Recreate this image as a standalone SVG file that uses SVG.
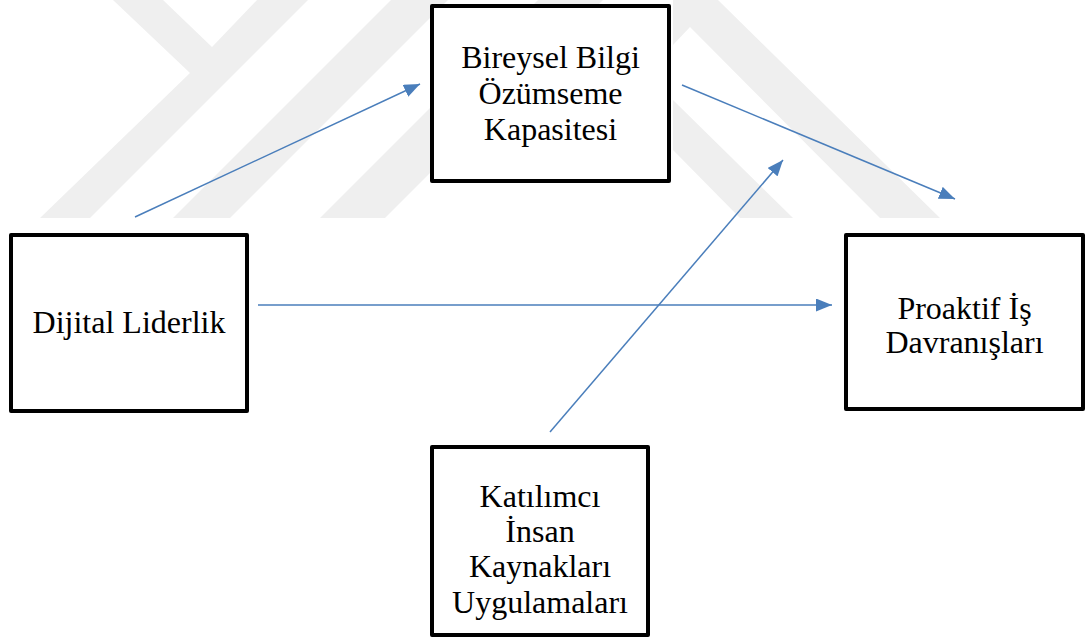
<svg xmlns="http://www.w3.org/2000/svg" width="1087" height="639" viewBox="0 0 1087 639">
<style>
.box{fill:#ffffff;stroke:#000000;stroke-width:4;stroke-linejoin:round}
.lbl{font-family:"Liberation Serif","Times New Roman",serif;font-size:32px;fill:#000000;text-anchor:middle}
.wm{fill:#efefef;stroke:none}
.conn{stroke:#4a7ebb;stroke-width:1.5;fill:none;marker-end:url(#ah)}
</style>
<defs>
<marker id="ah" markerUnits="userSpaceOnUse" markerWidth="17" markerHeight="13" refX="16" refY="6.5" orient="auto">
<path d="M0,0 L16,6.5 L0,13 z" fill="#4a7ebb"/>
</marker>
</defs>
<rect width="1087" height="639" fill="#ffffff"/>
<g id="watermark">
<polygon class="wm" points="113,0 163,0 212,47 257,0 308,0 90,218 40,218 190,73"/>
<polygon class="wm" points="173,218 230,218 448,0 391,0"/>
<polygon class="wm" points="320,218 385,218 603,0 538,0"/>
<polygon class="wm" points="673,0 718,0 940,218 880,218 690,27 673,45"/>
<polygon class="wm" points="673,100 793,218 740,218 673,150"/>
</g>
<g id="connectors">
<line class="conn" x1="135" y1="217" x2="420" y2="84"/>
<line class="conn" x1="682" y1="85" x2="955" y2="199"/>
<line class="conn" x1="258" y1="305" x2="832" y2="305"/>
<line class="conn" x1="550" y1="432" x2="783" y2="160"/>
</g>
<g id="node-bireysel">
<rect class="box" x="432" y="6" width="237" height="175"/>
<text class="lbl" x="550.5" y="68">Bireysel Bilgi</text>
<text class="lbl" x="550.5" y="104">Özümseme</text>
<text class="lbl" x="550.5" y="140">Kapasitesi</text>
</g>
<g id="node-dijital">
<rect class="box" x="11" y="235" width="236" height="176"/>
<text class="lbl" x="129" y="333">Dijital Liderlik</text>
</g>
<g id="node-proaktif">
<rect class="box" x="846" y="235" width="237" height="174"/>
<text class="lbl" x="964.5" y="319">Proaktif İş</text>
<text class="lbl" x="964.5" y="353">Davranışları</text>
</g>
<g id="node-katilimci">
<rect class="box" x="432" y="447" width="216" height="188"/>
<text class="lbl" x="540" y="507">Katılımcı</text>
<text class="lbl" x="540" y="542">İnsan</text>
<text class="lbl" x="540" y="577">Kaynakları</text>
<text class="lbl" x="540" y="613">Uygulamaları</text>
</g>
</svg>
